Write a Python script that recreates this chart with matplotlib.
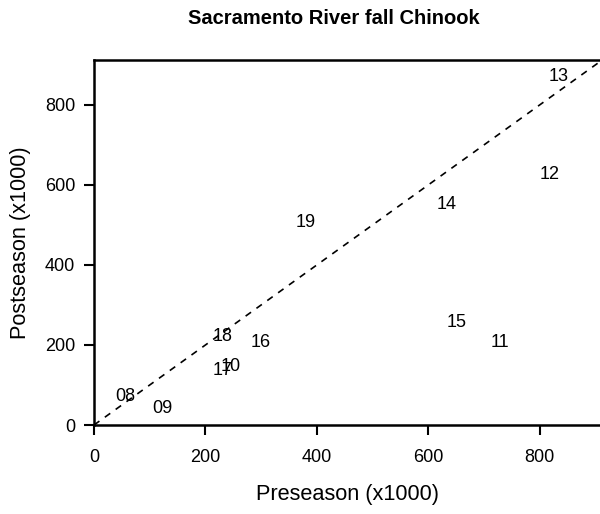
import matplotlib
matplotlib.use("Agg")
import matplotlib.pyplot as plt

plt.rcParams['font.family'] = ['Liberation Sans', 'DejaVu Sans']

years = ["08", "09", "10", "11", "12", "13", "14", "15", "16", "17", "18", "19"]
preseason = [56, 122, 246, 728, 818, 834, 633, 651, 300, 230, 230, 380]
postseason = [70, 42, 147, 207, 627, 870, 550, 255, 205, 135, 220, 505]
ticks = [0, 200, 400, 600, 800]

fig = plt.figure(figsize=(6.0, 5.14), dpi=100)
ax = fig.add_axes([94/600, 89/514, 1 - 94/600, 365/514])

lim = 908
ax.plot([0, lim], [0, lim], linestyle=(0, (4, 4)), color='black', linewidth=1.2)
for lab, x, y in zip(years, preseason, postseason):
    ax.text(x, y, lab, ha='center', va='center', fontsize=13, color='black')

ax.set_xlim(0, lim)
ax.set_ylim(0, 912)
ax.set_xticks(ticks)
ax.set_yticks(ticks)
ax.tick_params(direction='out', length=7.5, width=1.5, labelsize=13)
ax.tick_params(axis='x', pad=10)
ax.tick_params(axis='y', pad=6)
for s in ['left', 'bottom', 'top']:
    ax.spines[s].set_linewidth(1.8)
ax.spines['right'].set_visible(False)

ax.set_xlabel("Preseason (x1000)", fontsize=15.7, labelpad=13)
ax.set_ylabel("Postseason (x1000)", fontsize=15.7, labelpad=10)
fig.text(334/600, 1 - 18/514, "Sacramento River fall Chinook", ha='center', va='center',
         fontsize=14.5, fontweight='bold')

fig.savefig("out.png", dpi=100)
